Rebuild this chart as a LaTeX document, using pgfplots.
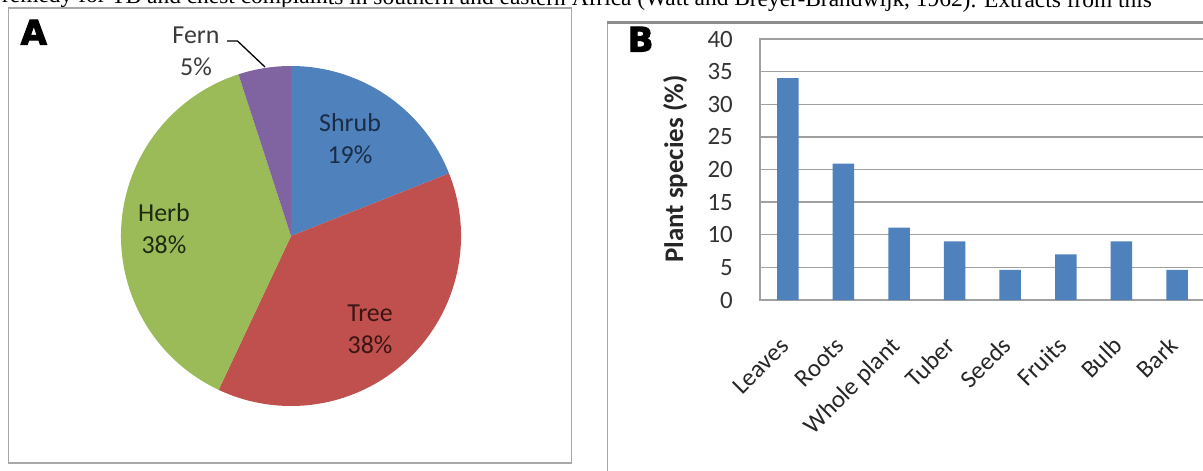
\documentclass[border=0pt]{standalone}
\usepackage{fontspec}
\setmainfont{Carlito}
\newfontfamily\serif{Liberation Serif}
\newfontfamily\heavy{DejaVu Sans}[BoldFeatures={FakeBold=3}]
\usepackage{pgfplots}
\pgfplotsset{compat=1.18}
\definecolor{shrubc}{HTML}{4F81BD}
\definecolor{treec}{HTML}{C0504D}
\definecolor{herbc}{HTML}{9BBB59}
\definecolor{fernc}{HTML}{8064A2}
\definecolor{framec}{HTML}{A8A8A8}
\definecolor{gridc}{HTML}{A0A0A0}
\definecolor{shrubt}{HTML}{1B2C45}
\definecolor{treet}{HTML}{3A1514}
\definecolor{herbt}{HTML}{1E2A10}
\definecolor{fernt}{HTML}{3A3A3A}
% pie shares (%)
\def\pShrub{19}\def\pTree{38}\def\pHerb{38}\def\pFern{5}
\pgfmathsetmacro{\aA}{90}
\pgfmathsetmacro{\aB}{\aA-3.6*\pShrub}
\pgfmathsetmacro{\aC}{\aB-3.6*\pTree}
\pgfmathsetmacro{\aD}{\aC-3.6*\pHerb}
\pgfmathsetmacro{\aE}{\aD-3.6*\pFern}
\begin{document}
\begin{tikzpicture}
\useasboundingbox (0,0) rectangle (1203bp,-471bp);
\clip (0,0) rectangle (1203bp,-471bp);
% cropped running text at top
\node[anchor=base west, inner sep=0pt, font=\serif\fontsize{23.5}{23.5}\selectfont, rotate=-0.27] at (2bp,-2.5bp) {remedy for TB and chest complaints in southern and eastern Africa (Watt and Breyer-Brandwijk, 1962). Extracts from this};
% frames
\draw[framec, line width=1.5bp] (8.5bp,-8bp) rectangle (571.5bp,-463bp);
\draw[framec, line width=1.5bp] (607.5bp,-22.5bp) -- (607.5bp,-480bp);
\draw[gray!90, line width=2.5bp] (606.8bp,-22.5bp) -- (1210bp,-22.5bp);
% panel letters
\node[anchor=base west, inner sep=0pt, font=\heavy\bfseries\fontsize{34}{34}\selectfont] at (20.5bp,-44.5bp) {A};
\node[anchor=base west, inner sep=0pt, font=\heavy\bfseries\fontsize{34}{34}\selectfont] at (627.5bp,-51.5bp) {B};
% pie
\begin{axis}[at={(291bp,-236bp)}, anchor=origin, x=1bp, y=1bp,
  xmin=-200, xmax=200, ymin=-200, ymax=200, hide axis, clip=false]
\fill[shrubc] (axis cs:0,0) -- ++(\aA:170bp) arc[start angle=\aA, end angle=\aB, radius=170bp] -- cycle;
\fill[treec] (axis cs:0,0) -- ++(\aB:170bp) arc[start angle=\aB, end angle=\aC, radius=170bp] -- cycle;
\fill[herbc] (axis cs:0,0) -- ++(\aC:170bp) arc[start angle=\aC, end angle=\aD, radius=170bp] -- cycle;
\fill[fernc] (axis cs:0,0) -- ++(\aD:170bp) arc[start angle=\aD, end angle=\aE, radius=170bp] -- cycle;
\end{axis}
\tikzset{lab/.style={anchor=base, inner sep=0pt, font=\fontsize{26}{26}\selectfont}}
\node[lab, text=shrubt] at (350bp,-131.7bp) {Shrub};
\node[lab, text=shrubt] at (350bp,-163bp) {19\%};
\node[lab, text=treet] at (370bp,-321.7bp) {Tree};
\node[lab, text=treet] at (370bp,-353bp) {38\%};
\node[lab, text=herbt] at (164bp,-221.7bp) {Herb};
\node[lab, text=herbt] at (164bp,-253bp) {38\%};
\node[lab, text=fernt] at (196bp,-43.3bp) {Fern};
\node[lab, text=fernt] at (196bp,-75bp) {5\%};
\draw[black, line width=1.3bp] (227bp,-41bp) -- (237.5bp,-41bp) -- (265bp,-67bp);
% bar chart
\begin{axis}[
  at={(760bp,-300bp)}, anchor=south west,
  scale only axis, width=556bp, height=261bp,
  xmin=-0.5, xmax=9.5, ymin=0, ymax=40,
  ytick={0,5,...,40},
  xtick={0,1,...,7},
  xticklabels={Leaves,Roots,Whole plant,Tuber,Seeds,Fruits,Bulb,Bark},
  ymajorgrids,
  grid style={draw=gridc, line width=1.3bp},
  axis line style={draw=gridc, line width=1.3bp},
  tick style={draw=none},
  /pgf/number format/assume math mode=true,
  yticklabel style={font=\fontsize{25}{25}\selectfont, text=black!80, anchor=east, inner sep=0pt, xshift=-27bp},
  xticklabel style={font=\fontsize{25}{25}\selectfont, text=black!85, yshift=-41bp, rotate=45, anchor=east, inner sep=0pt, text height=0.644em, text depth=0pt},
  ybar, bar width=21.5bp,
]
\addplot[fill=shrubc, draw=none] coordinates {(0,34) (1,20.9) (2,11.1) (3,9) (4,4.6) (5,7) (6,9) (7,4.6)};
\end{axis}
\node[rotate=90, anchor=base, inner sep=0pt, font=\bfseries\fontsize{27}{27}\selectfont, text=black!85] at (683bp,-169bp) {Plant species (\%)};
\end{tikzpicture}
\end{document}
